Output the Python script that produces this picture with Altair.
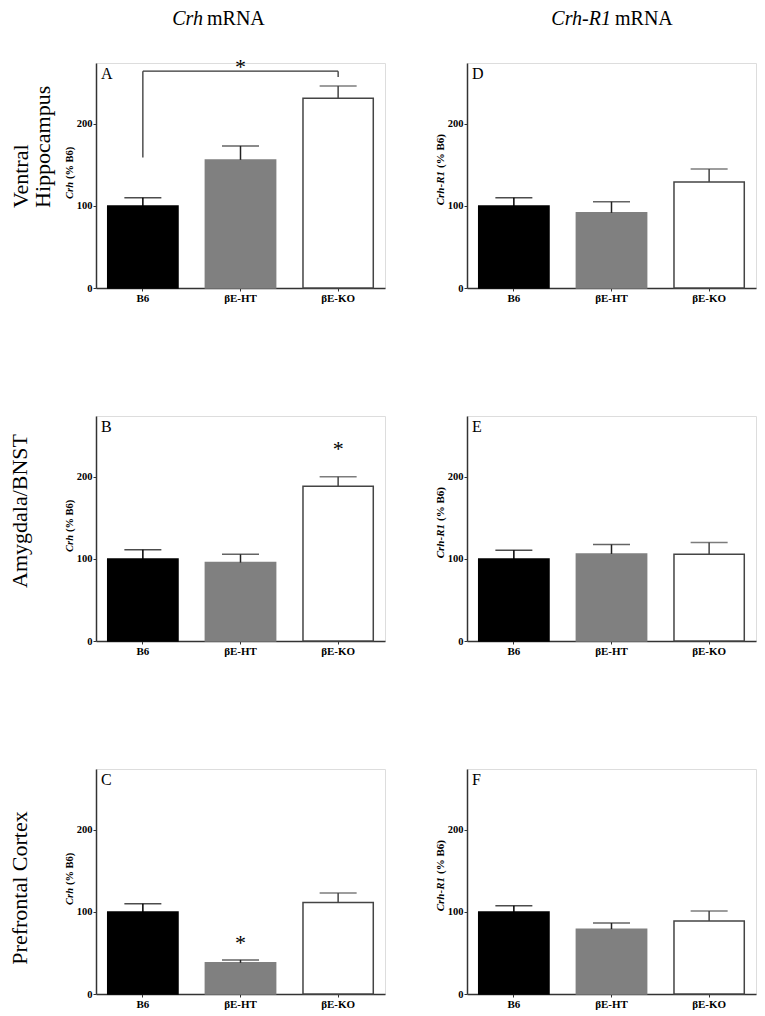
import altair as alt
import pandas as pd

groups = ["B6", "βE-HT", "βE-KO"]

crh_vh = [100, 156, 231]
crh_vh_err = [110, 173, 246]
crh_amy = [100, 95.5, 188.5]
crh_amy_err = [111, 105.5, 200]
crh_pfc = [100, 38, 111.5]
crh_pfc_err = [110, 41.5, 123]

r1_vh = [100, 91.5, 129]
r1_vh_err = [110, 105, 145]
r1_amy = [100, 106, 105.5]
r1_amy_err = [110.5, 117.5, 120]
r1_pfc = [100, 79, 89]
r1_pfc_err = [107.5, 86.5, 101]

y_ticks = [0, 100, 200]
y_max = 274

fills = ["#000000", "#808080", "#ffffff"]
edges = ["#000000", "#808080", "#444444"]
errcols = ["#000000", "#222222", "#444444"]

# significance bracket in panel A
sig_groups = ["B6", "βE-KO"]
sig_top = 264
sig_bottoms = [159, 257]

SERIF = "Liberation Serif"
W, H = 289, 225

xscale = alt.Scale(domain=groups, paddingInner=0.28, paddingOuter=0.12)
yscale = alt.Scale(domain=[0, y_max], nice=False)


def text_layer(txt, x, y, size, angle=0, align="center", style="normal",
               weight="normal", baseline="alphabetic"):
    kw = dict(text=txt, font=SERIF, fontSize=size, align=align,
              fontStyle=style, fontWeight=weight, baseline=baseline,
              color="#000000")
    if angle:
        kw["angle"] = angle
    return alt.Chart(pd.DataFrame({"k": [0]})).mark_text(**kw).encode(
        x=alt.value(x), y=alt.value(y))


def panel(vals, errs, letter, gene, gene_end, title_size,
          row_labels=(), col_title=None, stars=None, bracket=False):
    df = pd.DataFrame({"g": groups, "v": vals, "e": errs})
    base = alt.Chart(df)
    x = alt.X("g:N", scale=xscale, sort=groups,
              axis=alt.Axis(title=None, labelAngle=0, labelFont=SERIF,
                            labelFontWeight="bold", labelFontSize=11,
                            labelColor="#000000", tickSize=3,
                            tickColor="#333333", labelPadding=1,
                            domainColor="#333333", domainWidth=1.5))
    y = alt.Y("v:Q", scale=yscale,
              axis=alt.Axis(title=None, values=y_ticks, grid=False,
                            labelFont=SERIF, labelFontWeight="bold",
                            labelFontSize=10.5, labelColor="#000000",
                            tickSize=3, tickColor="#333333",
                            labelPadding=1, domainColor="#333333",
                            domainWidth=1.5))
    bars = base.mark_bar(strokeWidth=1.5).encode(
        x=x, y=y,
        fill=alt.Fill("g:N", scale=alt.Scale(domain=groups, range=fills),
                      legend=None),
        stroke=alt.Stroke("g:N", scale=alt.Scale(domain=groups, range=edges),
                          legend=None),
    )
    ecol = alt.Color("g:N", scale=alt.Scale(domain=groups, range=errcols),
                     legend=None)
    stems = base.mark_rule(strokeWidth=1.5).encode(
        x=alt.X("g:N", scale=xscale, sort=groups),
        y=alt.Y("v:Q", scale=yscale), y2="e:Q", color=ecol)
    caps = base.mark_tick(size=37, thickness=1.5).encode(
        x=alt.X("g:N", scale=xscale, sort=groups),
        y=alt.Y("e:Q", scale=yscale), color=ecol)
    layers = [bars, stems, caps]

    if bracket:
        bdf = pd.DataFrame({"g": [sig_groups[0]], "g2": [sig_groups[1]],
                            "v": [sig_top]})
        layers.append(alt.Chart(bdf).mark_rule(color="#333333",
                                               strokeWidth=1.3).encode(
            x=alt.X("g:N", scale=xscale, sort=groups),
            x2="g2:N", y=alt.Y("v:Q", scale=yscale)))
        ldf = pd.DataFrame({"g": sig_groups, "v": [sig_top] * 2,
                            "b": sig_bottoms})
        layers.append(alt.Chart(ldf).mark_rule(color="#333333",
                                               strokeWidth=1.3).encode(
            x=alt.X("g:N", scale=xscale, sort=groups),
            y=alt.Y("v:Q", scale=yscale), y2="b:Q"))
    if stars:
        sdf = pd.DataFrame({"g": [stars[0]], "v": [stars[1]]})
        layers.append(alt.Chart(sdf).mark_text(
            text="*", font=SERIF, fontSize=22, baseline="middle", dy=3,
            color="#000000").encode(
            x=alt.X("g:N", scale=xscale, sort=groups),
            y=alt.Y("v:Q", scale=yscale)))

    # panel letter
    layers.append(text_layer(letter, 5, 16, 16, align="left"))
    # y-axis title: italic gene name + bold "(% B6)"
    layers.append(text_layer(gene, -23, gene_end, title_size, angle=270,
                             align="right", style="italic", weight="bold"))
    layers.append(text_layer("(% B6)", -23, gene_end - 3, title_size,
                             angle=270, align="left", weight="bold"))
    for (txt, lx, ly, al) in row_labels:
        layers.append(text_layer(txt, lx, ly, 22, angle=270, align=al))
    if col_title:
        it, rest, split = col_title
        layers.append(text_layer(it, split, -38, 20, align="right",
                                 style="italic"))
        layers.append(text_layer(rest, split + 4, -38, 20, align="left"))
    return alt.layer(*layers).properties(width=W, height=H)


pA = panel(crh_vh, crh_vh_err, "A", "Crh", 119, 10.5,
           row_labels=[("Ventral", -68, 145, "left"),
                       ("Hippocampus", -46, 145, "left")],
           col_title=("Crh", "mRNA", 107),
           stars=("βE-HT", 273), bracket=True)
pD = panel(r1_vh, r1_vh_err, "D", "Crh-R1", 108, 11,
           col_title=("Crh-R1", "mRNA", 144))
pB = panel(crh_amy, crh_amy_err, "B", "Crh", 119, 10.5,
           row_labels=[("Amygdala/BNST", -69, 95, "center")],
           stars=("βE-KO", 237))
pE = panel(r1_amy, r1_amy_err, "E", "Crh-R1", 108, 11)
pC = panel(crh_pfc, crh_pfc_err, "C", "Crh", 119, 10.5,
           row_labels=[("Prefrontal Cortex", -69, 119, "center")],
           stars=("βE-HT", 66))
pF = panel(r1_pfc, r1_pfc_err, "F", "Crh-R1", 108, 11)

chart = alt.ConcatChart(
    concat=[pA, pD, pB, pE, pC, pF], columns=2,
    spacing={"row": 128, "column": 82}, bounds="flush", padding=0,
).configure_view(stroke=None).configure(background="#ffffff")

chart.save("out.html", embed_options={"renderer": "svg", "actions": False})
